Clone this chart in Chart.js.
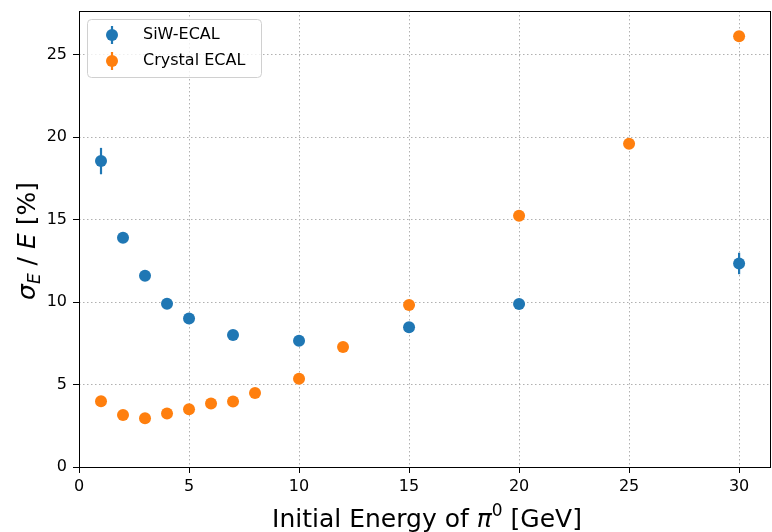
<!DOCTYPE html>
<html>
<head>
<meta charset="utf-8">
<script src="https://cdn.jsdelivr.net/npm/chart.js@4"></script>
<style>
  body { margin: 0; background: #fff; }
  canvas { display: block; }
</style>
</head>
<body>
<canvas id="myChart" width="772" height="532"></canvas>
<script>
const siwEnergy = [1, 2, 3, 4, 5, 7, 10, 15, 20, 30];
const siwRes = [18.55, 13.9, 11.6, 9.9, 9.0, 8.0, 7.65, 8.47, 9.89, 12.34];
const siwErr = [0.8, 0.3, 0.15, 0.15, 0.15, 0.15, 0.15, 0.2, 0.2, 0.65];

const crystalEnergy = [1, 2, 3, 4, 5, 6, 7, 8, 10, 12, 15, 20, 25, 30];
const crystalRes = [3.99, 3.16, 2.95, 3.24, 3.5, 3.85, 3.97, 4.48, 5.35, 7.27, 9.83, 15.24, 19.6, 26.12];
const crystalErr = [0.1, 0.1, 0.1, 0.1, 0.1, 0.1, 0.1, 0.1, 0.1, 0.1, 0.15, 0.15, 0.15, 0.2];

const xTicks = [0, 5, 10, 15, 20, 25, 30];
const yTicks = [0, 5, 10, 15, 20, 25];

const blue = '#1f77b4';
const orange = '#ff7f0e';

const toPoints = (xs, ys) => xs.map((x, i) => ({ x: x, y: ys[i] }));

const noPad = (s) => {
  s.paddingTop = 0;
  s.paddingBottom = 0;
  s.paddingLeft = 0;
  s.paddingRight = 0;
};

// error bars, frame, legend and axis titles
const extras = {
  id: 'extras',
  beforeDatasetsDraw(chart) {
    const ctx = chart.ctx;
    const xs = chart.scales.x;
    const ys = chart.scales.y;
    const sets = [
      [siwEnergy, siwRes, siwErr, blue],
      [crystalEnergy, crystalRes, crystalErr, orange],
    ];
    ctx.save();
    ctx.lineWidth = 2.2;
    sets.forEach(([ex, ey, ee, col]) => {
      ctx.strokeStyle = col;
      ex.forEach((x, i) => {
        const px = xs.getPixelForValue(x);
        ctx.beginPath();
        ctx.moveTo(px, ys.getPixelForValue(ey[i] - ee[i]));
        ctx.lineTo(px, ys.getPixelForValue(ey[i] + ee[i]));
        ctx.stroke();
      });
    });
    ctx.restore();
  },
  afterDraw(chart) {
    const ctx = chart.ctx;
    const a = chart.chartArea;
    ctx.save();
    // frame
    ctx.strokeStyle = '#000';
    ctx.lineWidth = 1;
    ctx.strokeRect(a.left + 0.5, a.top + 0.5, a.right - a.left - 1, a.bottom - a.top);

    // legend
    const lx = a.left + 8, ly = a.top + 8, lw = 174, lh = 58;
    ctx.fillStyle = 'rgba(255,255,255,0.8)';
    ctx.strokeStyle = '#d0d0d0';
    ctx.lineWidth = 1;
    ctx.beginPath();
    ctx.roundRect(lx + 0.5, ly + 0.5, lw, lh, 4);
    ctx.fill();
    ctx.stroke();
    const items = [['SiW-ECAL', blue], ['Crystal ECAL', orange]];
    items.forEach(([label, col], i) => {
      const cy = ly + 16 + i * 26;
      const cx = lx + 25;
      ctx.strokeStyle = col;
      ctx.lineWidth = 2.2;
      ctx.beginPath();
      ctx.moveTo(cx, cy - 9);
      ctx.lineTo(cx, cy + 9);
      ctx.stroke();
      ctx.fillStyle = col;
      ctx.beginPath();
      ctx.arc(cx, cy, 6, 0, Math.PI * 2);
      ctx.fill();
      ctx.fillStyle = '#000';
      ctx.font = '16px "DejaVu Sans"';
      ctx.textBaseline = 'middle';
      ctx.textAlign = 'left';
      ctx.fillText(label, lx + 56, cy);
    });

    // x title
    ctx.fillStyle = '#000';
    ctx.textBaseline = 'alphabetic';
    const xParts = [
      ['Initial Energy of ', '25px "DejaVu Sans"', 0],
      ['\u03c0', 'italic 25px "DejaVu Sans"', 0],
      ['0', '17px "DejaVu Sans"', -11],
      [' [GeV]', '25px "DejaVu Sans"', 0],
    ];
    let total = 0;
    xParts.forEach(([t, f]) => { ctx.font = f; total += ctx.measureText(t).width; });
    let x = 427 - total / 2;
    const by = 527;
    xParts.forEach(([t, f, dy]) => {
      ctx.font = f;
      ctx.fillText(t, x, by + dy);
      x += ctx.measureText(t).width;
    });

    // y title
    const yParts = [
      ['\u03c3', 'italic 25px "DejaVu Sans"', 0],
      ['E', 'italic 17px "DejaVu Sans"', 5],
      [' / ', '25px "DejaVu Sans"', 0],
      ['E', 'italic 25px "DejaVu Sans"', 0],
      [' [%]', '25px "DejaVu Sans"', 0],
    ];
    total = 0;
    yParts.forEach(([t, f]) => { ctx.font = f; total += ctx.measureText(t).width; });
    ctx.translate(35, 241);
    ctx.rotate(-Math.PI / 2);
    x = -total / 2;
    yParts.forEach(([t, f, dy]) => {
      ctx.font = f;
      ctx.fillText(t, x, dy);
      x += ctx.measureText(t).width;
    });
    ctx.restore();
  },
};

const gridOpts = {
  color: '#b0b0b0',
  lineWidth: 1,
  tickColor: '#000',
  tickLength: 6,
  tickBorderDash: [],
  tickWidth: 1,
};
const borderOpts = { display: false, dash: [1.5, 2.5] };

const myChart = new Chart('myChart', {
  type: 'scatter',
  data: {
    datasets: [
      {
        label: 'SiW-ECAL',
        data: toPoints(siwEnergy, siwRes),
        backgroundColor: blue,
        borderColor: blue,
        pointRadius: 6,
        borderWidth: 0,
      },
      {
        label: 'Crystal ECAL',
        data: toPoints(crystalEnergy, crystalRes),
        backgroundColor: orange,
        borderColor: orange,
        pointRadius: 6,
        borderWidth: 0,
      },
    ],
  },
  options: {
    responsive: false,
    animation: false,
    layout: { autoPadding: false, padding: { top: 11, right: 1, left: 0, bottom: 0 } },
    plugins: {
      legend: { display: false },
      tooltip: { enabled: false },
    },
    scales: {
      x: {
        type: 'linear',
        min: 0,
        max: 31.45,
        grid: gridOpts,
        border: borderOpts,
        afterBuildTicks: (s) => { s.ticks = xTicks.map((v) => ({ value: v })); },
        afterFit: (s) => { s.height = 65; noPad(s); },
        ticks: { color: '#000', font: { family: 'DejaVu Sans', size: 16 }, padding: 4, maxRotation: 0 },
      },
      y: {
        type: 'linear',
        min: 0,
        max: 27.65,
        grid: gridOpts,
        border: borderOpts,
        afterBuildTicks: (s) => { s.ticks = yTicks.map((v) => ({ value: v })); },
        afterFit: (s) => { s.width = 79; noPad(s); },
        ticks: { color: '#000', font: { family: 'DejaVu Sans', size: 16 }, padding: 6 },
      },
    },
  },
  plugins: [extras],
});
</script>
</body>
</html>
